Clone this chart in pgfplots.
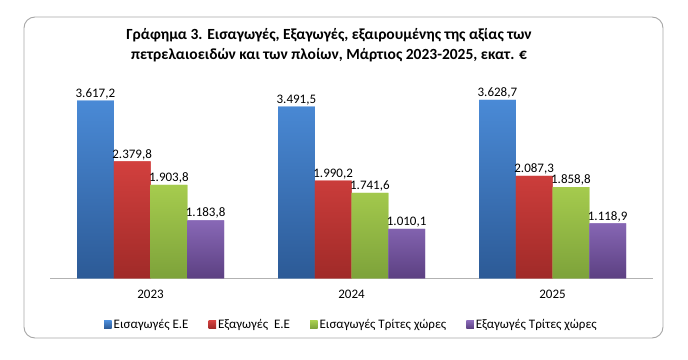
\documentclass[border=0pt]{standalone}
\usepackage{pgfplots}
\pgfplotsset{compat=1.18}
\usepackage{fontspec}
\setmainfont{Carlito}
\definecolor{bluetop}{HTML}{4A8AD6}
\definecolor{bluebot}{HTML}{2C5A96}
\definecolor{redtop}{HTML}{D2403E}
\definecolor{redbot}{HTML}{A02A28}
\definecolor{greentop}{HTML}{A6CC4E}
\definecolor{greenbot}{HTML}{7DA23A}
\definecolor{purptop}{HTML}{8868B6}
\definecolor{purpbot}{HTML}{5C4082}
\begin{document}
\begin{tikzpicture}
\draw[color=black!35, line width=0.9bp, rounded corners=11bp] (24bp,343bp) rectangle (663bp,22bp);
\node[font=\fontsize{15.5bp}{20bp}\selectfont\bfseries, align=center] at (329bp,315bp)
  {Γράφημα 3. Εισαγωγές, Εξαγωγές, εξαιρουμένης της αξίας των\\
   πετρελαιοειδών και των πλοίων, Μάρτιος 2023-2025, εκατ. €};
\begin{axis}[
  at={(50bp,81.5bp)}, anchor=south west,
  scale only axis, width=603bp, height=196.8bp,
  xmin=-0.5, xmax=2.5, ymin=0, ymax=4000,
  ybar=0pt, bar width=36.75bp,
  axis x line*=bottom, axis y line=none,
  x axis line style={-, draw=black!30, line width=0.8bp},
  xtick={0,1,2}, xticklabels={2023,2024,2025},
  xtick style={draw=none},
  xticklabel style={font=\fontsize{13bp}{15bp}\selectfont, yshift=-4bp},
  nodes near coords,
  nodes near coords align={vertical},
  every node near coord/.append style={text=black, font=\fontsize{13bp}{15bp}\selectfont, inner sep=1.5bp},
  /pgf/number format/.cd, fixed, fixed zerofill, precision=1, use comma, 1000 sep={.}, assume math mode=true,
  /pgfplots/.cd,
  legend columns=4,
  legend style={at={(0.5,-0.236)}, anchor=center, draw=none, fill=none,
    font=\fontsize{13bp}{15bp}\selectfont, /tikz/every even column/.append style={column sep=18bp},
    inner sep=0pt},
  legend image code/.code={\fill[#1] (0bp,-3.5bp) rectangle (7.5bp,4bp);},
]
\addplot[draw=none, top color=bluetop, bottom color=bluebot, fill=bluetop] coordinates {(0,3617.2) (1,3491.5) (2,3628.7)};
\addplot[draw=none, top color=redtop, bottom color=redbot, fill=redtop] coordinates {(0,2379.8) (1,1990.2) (2,2087.3)};
\addplot[draw=none, top color=greentop, bottom color=greenbot, fill=greentop] coordinates {(0,1903.8) (1,1741.6) (2,1858.8)};
\addplot[draw=none, top color=purptop, bottom color=purpbot, fill=purptop] coordinates {(0,1183.8) (1,1010.1) (2,1118.9)};
\legend{Εισαγωγές Ε.Ε, Εξαγωγές\ \ Ε.Ε, Εισαγωγές Τρίτες χώρες, Εξαγωγές Τρίτες χώρες}
\end{axis}
\pgfresetboundingbox
\useasboundingbox (0,0) rectangle (688bp,360bp);
\end{tikzpicture}
\end{document}
